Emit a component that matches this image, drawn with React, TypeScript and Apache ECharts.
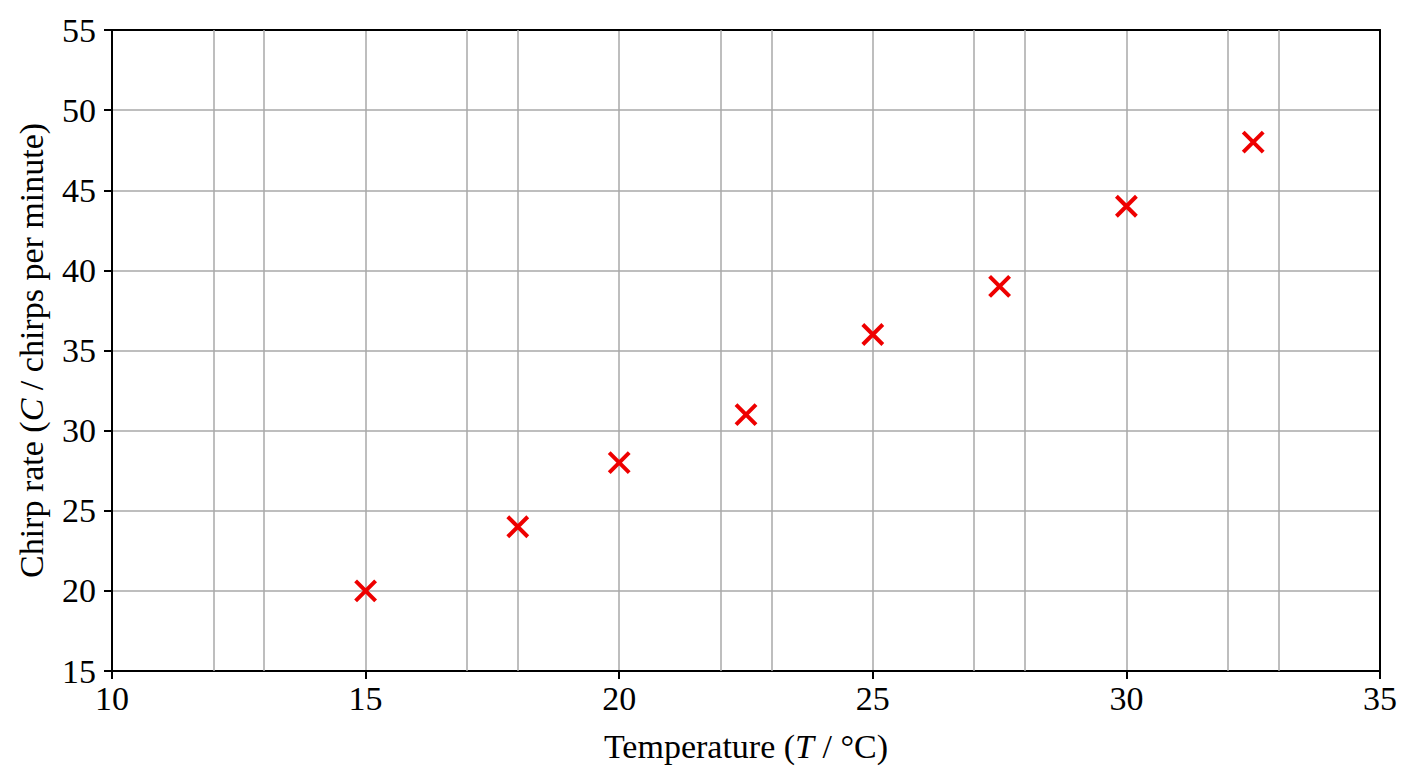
import React, { useRef, useEffect } from "react";
import * as echarts from "echarts";

// temperature (°C) and chirp rate (chirps per minute)
const temperature = [15, 18, 20, 22.5, 25, 27.5, 30, 32.5];
const chirpRate = [20, 24, 28, 31, 36, 39, 44, 48];

// extra vertical grid lines seen in the reference (besides the major ticks)
const extraGridX = [12, 13, 17, 18, 22, 23, 27, 28, 32, 33];

const xTicks = { min: 10, max: 35, interval: 5 };
const yTicks = { min: 15, max: 55, interval: 5 };

const FONT = "'Liberation Serif', 'DejaVu Serif', serif";
const FONT_SIZE = 34;
const GRID_COLOR = "#a8a8a8";
const MARK_RED = "#ee0000";

export default function App() {
  const chartRef = useRef<HTMLDivElement>(null);

  useEffect(() => {
    if (!chartRef.current) return;
    const chart = echarts.init(chartRef.current, null, { renderer: "svg" });

    const axisCommon = {
      type: "value" as const,
      axisLine: { show: true, onZero: false, lineStyle: { color: "#000", width: 2 } },
      axisTick: { show: true, inside: false, length: 8, lineStyle: { color: "#000", width: 2 } },
      axisLabel: { color: "#000", fontFamily: FONT, fontSize: FONT_SIZE },
      splitLine: { show: true, lineStyle: { color: GRID_COLOR, width: 1.5 } },
      nameTextStyle: {
        color: "#000",
        fontFamily: FONT,
        fontSize: FONT_SIZE,
        rich: { i: { fontStyle: "italic", fontFamily: FONT, fontSize: FONT_SIZE, color: "#000" } },
      },
    };

    const frame = {
      type: "value" as const,
      axisLine: { show: true, onZero: false, lineStyle: { color: "#000", width: 2 } },
      axisTick: { show: false },
      axisLabel: { show: false },
      splitLine: { show: false },
    };

    chart.setOption({
      animation: false,
      backgroundColor: "#fff",
      grid: { left: 112, right: 28, top: 30, bottom: 96, containLabel: false },
      xAxis: [
        {
          ...axisCommon,
          ...xTicks,
          position: "bottom",
          axisLabel: { ...axisCommon.axisLabel, margin: 10 },
          name: "Temperature ({i|T} / °C)",
          nameLocation: "middle",
          nameGap: 58,
        },
        { ...frame, ...xTicks, position: "top" },
      ],
      yAxis: [
        {
          ...axisCommon,
          ...yTicks,
          position: "left",
          axisLabel: { ...axisCommon.axisLabel, margin: 16 },
          name: "Chirp rate ({i|C} / chirps per minute)",
          nameLocation: "middle",
          nameRotate: 90,
          nameGap: 64,
        },
        { ...frame, ...yTicks, position: "right" },
      ],
      series: [
        {
          name: "grid",
          type: "line",
          data: [],
          silent: true,
          z: 1,
          markLine: {
            silent: true,
            symbol: ["none", "none"],
            label: { show: false },
            lineStyle: { color: GRID_COLOR, width: 1.5, type: "solid" },
            data: extraGridX.map((x) => ({ xAxis: x })),
          },
        },
        {
          name: "Chirp rate",
          type: "scatter",
          z: 5,
          data: temperature.map((t, i) => [t, chirpRate[i]]),
          symbol: "path://M0,0L10,10M10,0L0,10",
          symbolSize: 20,
          itemStyle: { color: "none", borderColor: MARK_RED, borderWidth: 4, opacity: 1 },
        },
      ],
    });

    return () => chart.dispose();
  }, []);

  return (
    <div
      ref={chartRef}
      style={{ position: "absolute", left: 0, top: 0, width: 1408, height: 768 }}
    />
  );
}
